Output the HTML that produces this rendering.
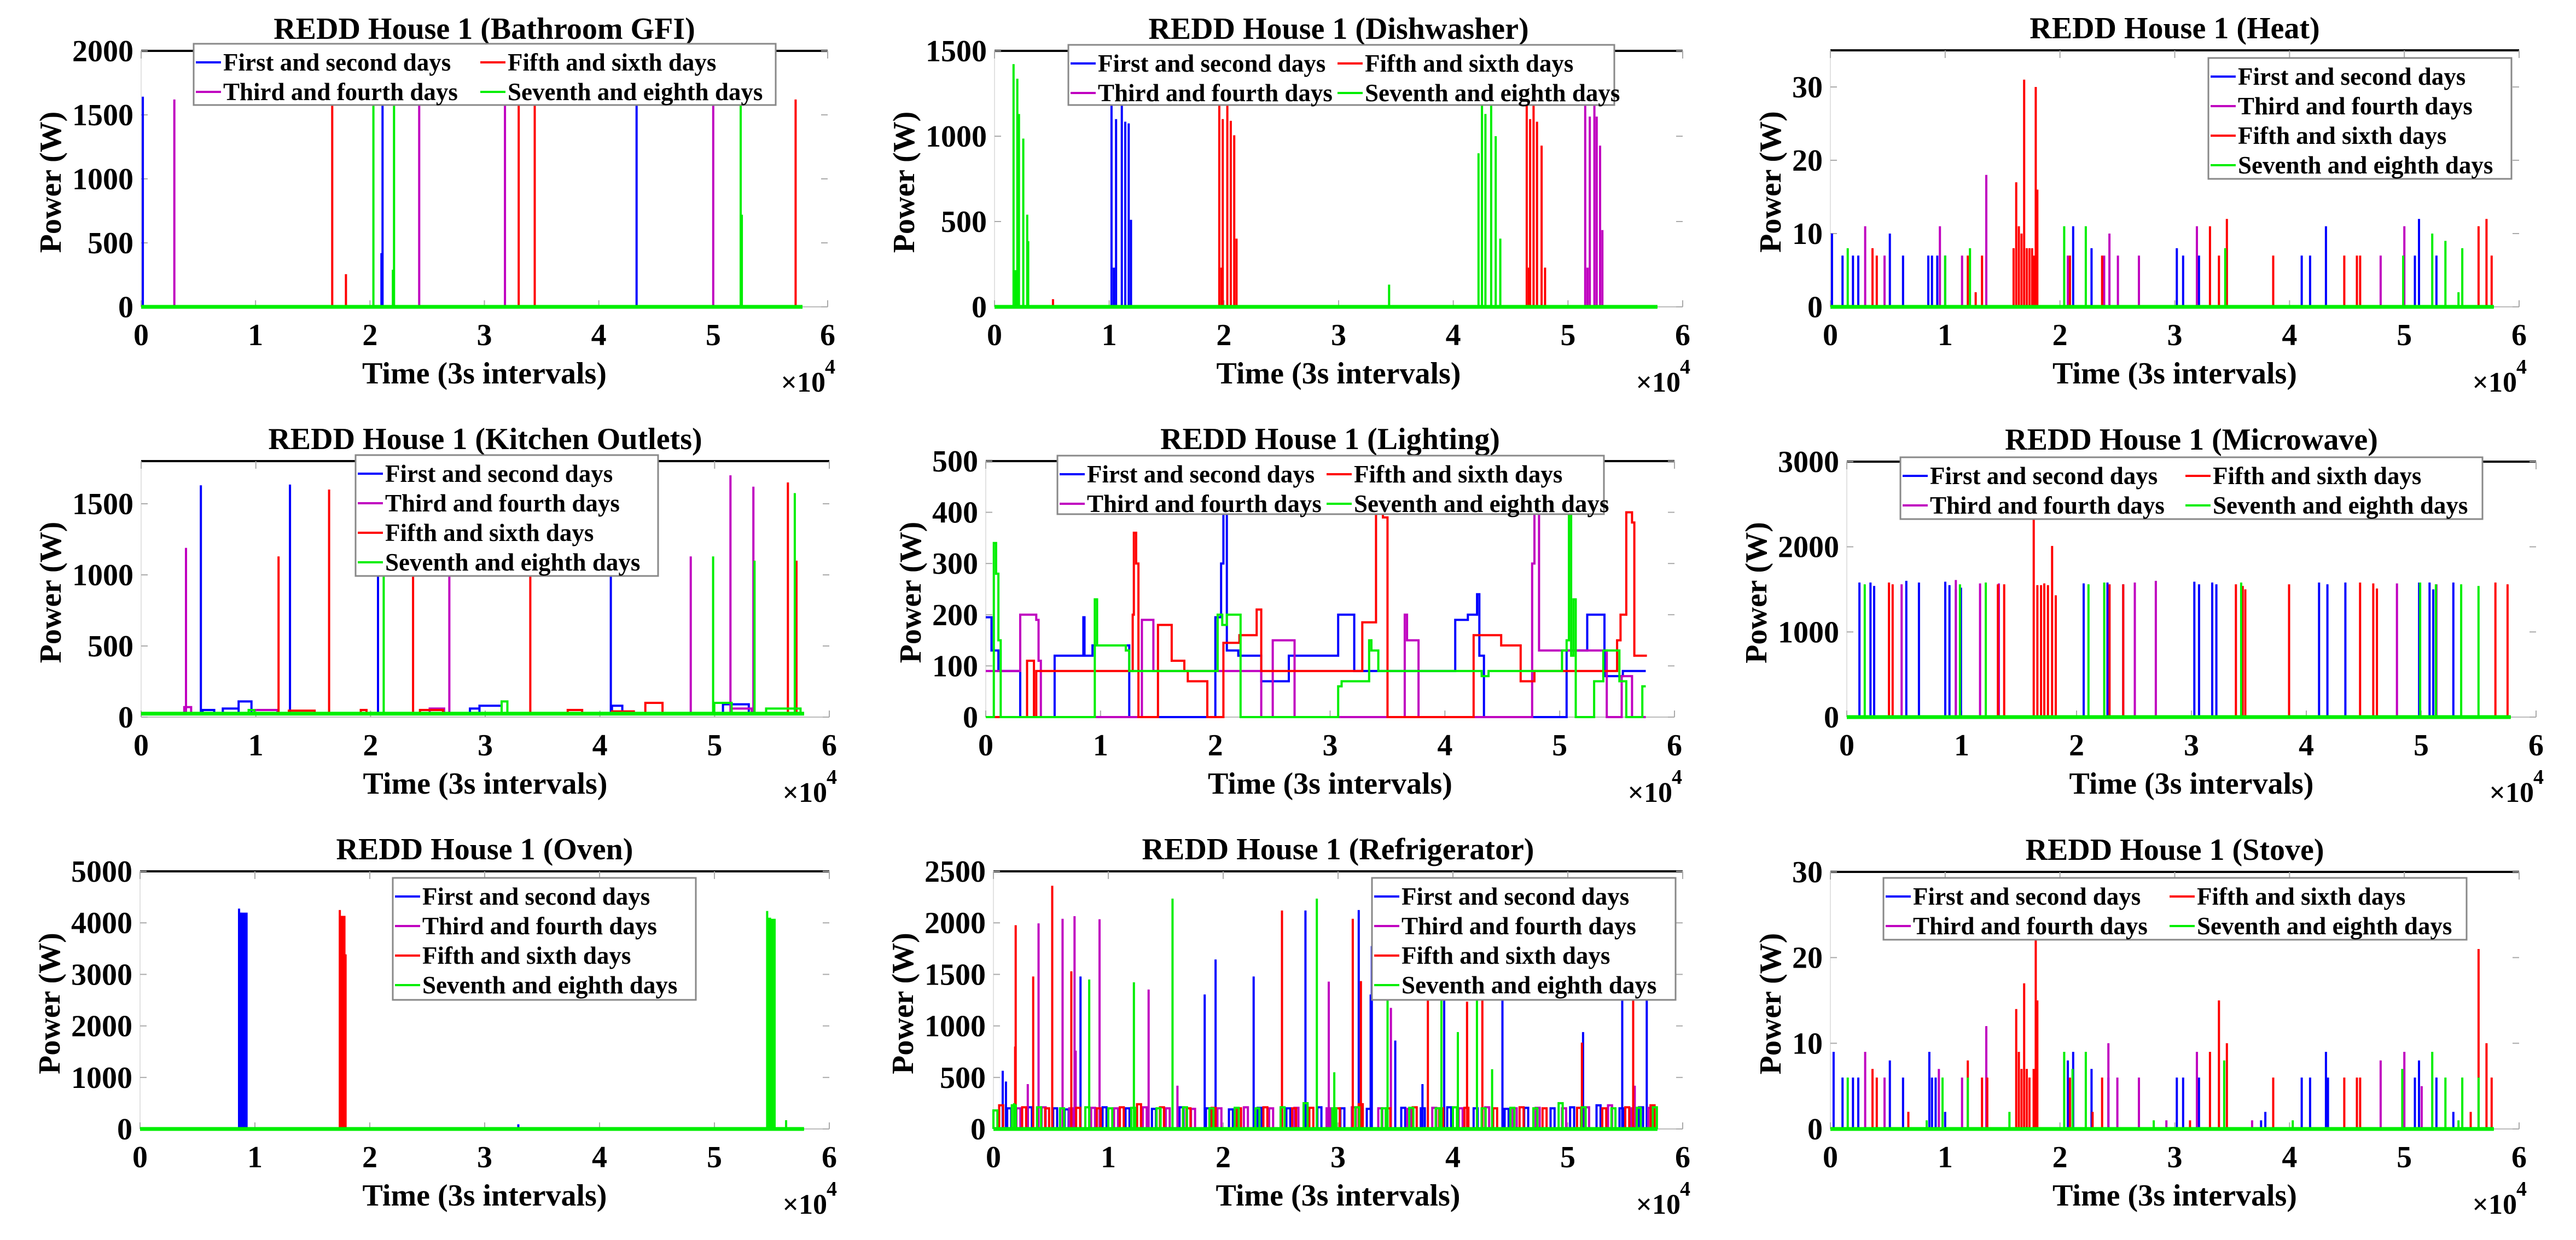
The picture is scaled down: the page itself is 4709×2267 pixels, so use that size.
<!DOCTYPE html>
<html><head><meta charset="utf-8"><style>
html,body{margin:0;padding:0;background:#fff;}
svg{display:block;}
text{font-family:"Liberation Serif",serif;font-weight:bold;fill:#000;}
</style></head><body>
<svg id="fig" width="4709" height="2267" viewBox="0 0 4709 2267" xmlns="http://www.w3.org/2000/svg">
<rect width="4709" height="2267" fill="#fff"/>
</svg>
<script>
// ===== Data (x in units of 1e4 samples, y in W) =====
const seriesNames = ["First and second days","Third and fourth days","Fifth and sixth days","Seventh and eighth days"];
const xTickLabels = ["0","1","2","3","4","5","6"];
const xEnd = 5.78;

// Bathroom GFI
const bathBlue = [[0.015,1642],[2.11,1620],[2.10,420],[4.33,1620]];
const bathMag = [[0.29,1620],[2.43,1620],[3.18,1620],[5.0,1620]];
const bathRed = [[1.67,1620],[1.79,255],[3.30,1620],[3.44,1620],[5.72,1620]];
const bathGreen = [[2.03,1620],[2.21,1620],[2.20,290],[5.24,1620],[5.25,720]];
const bathTicks = [0,500,1000,1500,2000];

// Dishwasher
const dishBlue = [[1.02,1180],[1.04,230],[1.06,1100],[1.11,1185],[1.14,1085],[1.17,1075],[1.19,510]];
const dishMag = [[5.15,1180],[5.17,230],[5.19,1115],[5.23,1180],[5.25,1115],[5.28,945],[5.30,450]];
const dishRed = [[0.51,45],[1.96,1180],[1.98,230],[1.99,1100],[2.03,1185],[2.06,1090],[2.09,1005],[2.11,400],[4.64,1180],[4.66,230],[4.67,1100],[4.70,1180],[4.73,1085],[4.77,945],[4.80,230]];
const dishGreen = [[0.166,1422],[0.18,215],[0.199,1337],[0.213,1130],[0.251,986],[0.285,540],[0.294,385],[3.44,130],[4.22,900],[4.25,1180],[4.28,1130],[4.33,1180],[4.37,1000],[4.41,400]];
const dishTicks = [0,500,1000,1500];

// Heat
const heatBlue = [[0.014,10],[0.106,7],[0.197,7],[0.243,7],[0.518,10],[0.633,7],[0.853,7],[0.885,7],[0.931,7],[1.0,7],[2.115,11],[2.275,8],[3.018,8],[3.073,7],[3.211,7],[4.106,7],[4.179,7],[4.317,11],[5.092,7],[5.128,12],[5.28,7]];
const heatMag = [[0.303,11],[0.472,7],[0.954,11],[1.147,7],[1.358,18],[2.069,7],[2.385,7],[2.431,10],[2.505,7],[2.688,7],[3.193,11],[4.794,7],[5.0,11]];
const heatRed = [[0.367,8],[0.404,7],[1.197,7],[1.266,2],[1.321,7],[1.596,8],[1.619,17],[1.642,11],[1.665,10],[1.688,31],[1.711,8],[1.734,8],[1.757,8],[1.771,7],[1.789,30],[1.803,16],[2.087,7],[2.367,7],[3.307,11],[3.385,7],[3.454,12],[3.858,7],[4.477,7],[4.587,7],[4.615,7],[5.647,11],[5.716,12],[5.761,7]];
const heatGreen = [[0.151,8],[1.0,7],[1.216,8],[2.037,11],[2.225,11],[3.44,8],[4.99,7],[5.243,10],[5.358,9],[5.472,2],[5.505,8]];
const heatTicks = [0,10,20,30];

// Kitchen Outlets
const kitBlue = [[0.521,1630],[1.298,1635],[2.065,1100],[4.095,1100]];
const kitBluePlat = [[0.536,0.637,50],[0.712,0.85,60],[0.85,0.962,110],[2.867,2.95,60],[2.95,3.143,80],[4.105,4.195,80],[5.073,5.298,90]];
const kitMag = [[0.391,1190],[2.687,1100],[4.792,1130],[5.138,1700],[5.338,1620]];
const kitMagPlat = [[0.376,0.436,70],[0.937,1.188,50],[2.516,2.642,60],[5.148,5.323,60]];
const kitRed = [[1.198,1130],[1.639,1600],[2.371,1100],[3.393,1100],[5.639,1650],[5.714,1100]];
const kitRedPlat = [[1.288,1.513,45],[1.915,1.965,50],[2.431,2.632,50],[3.719,3.845,50],[4.105,4.296,40],[4.396,4.546,100]];
const kitGreen = [[2.115,1100],[4.987,1130],[5.348,1100],[5.699,1575]];
const kitGreenPlat = [[0.937,0.987,50],[3.143,3.193,110],[4.997,5.148,100],[5.449,5.749,60]];
const kitTicks = [0,500,1000,1500];

// Lighting (step series: [x, value] held until next x)
const lightBlue = [[0,195],[0.05,130],[0.11,90],[0.30,0],[0.60,120],[0.84,120],[0.85,195],[0.86,120],[0.93,140],[1.22,140],[1.25,0],[1.98,0],[2.0,195],[2.05,300],[2.07,400],[2.10,130],[2.2,120],[2.4,70],[2.64,120],[3.07,200],[3.21,90],[4.09,190],[4.20,200],[4.28,240],[4.30,120],[4.34,0],[5.06,130],[5.24,200],[5.39,80],[5.55,90],[5.75,90]];
const lightMag = [[0,90],[0.28,90],[0.30,200],[0.44,190],[0.46,110],[0.48,0],[1.32,0],[1.36,190],[1.46,90],[2.38,90],[2.40,0],[2.50,150],[2.69,0],[3.64,0],[3.65,200],[3.67,150],[3.77,0],[4.76,300],[4.78,400],[4.82,130],[5.39,130],[5.41,0],[5.54,80],[5.63,0],[5.75,0]];
const lightRed = [[0,0],[0.33,0],[0.36,110],[0.42,0],[0.44,90],[1.26,90],[1.28,200],[1.29,360],[1.31,300],[1.33,0],[1.50,180],[1.62,110],[1.73,90],[1.76,70],[1.93,0],[2.07,145],[2.21,160],[2.36,210],[2.40,90],[3.28,185],[3.40,400],[3.46,390],[3.50,0],[4.25,160],[4.49,140],[4.66,70],[4.78,90],[5.40,90],[5.50,150],[5.53,200],[5.58,400],[5.63,380],[5.65,120],[5.76,120]];
const lightGreen = [[0,0],[0.05,0],[0.07,340],[0.09,280],[0.11,150],[0.13,0],[0.93,0],[0.95,230],[0.97,140],[1.22,130],[1.25,90],[2.0,90],[2.02,200],[2.06,180],[2.10,200],[2.22,0],[3.05,0],[3.07,60],[3.10,70],[3.30,70],[3.34,150],[3.36,130],[3.42,90],[4.30,90],[4.32,80],[4.38,90],[5.0,90],[5.02,130],[5.06,150],[5.08,400],[5.10,120],[5.12,230],[5.14,0],[5.30,70],[5.38,130],[5.50,130],[5.52,70],[5.58,0],[5.72,60],[5.75,60]];
const lightTicks = [0,100,200,300,400,500];

// Microwave
const microBlue = [[0.11,1580],[0.206,1580],[0.238,1540],[0.518,1600],[0.628,1580],[0.857,1590],[0.894,1550],[0.949,1500],[0.994,1520],[2.062,1570],[2.269,1580],[2.406,1560],[3.025,1590],[3.066,1560],[3.181,1580],[3.217,1560],[4.111,1580],[4.184,1560],[4.34,1580],[4.982,1580],[5.073,1580],[5.105,1500],[5.28,1580]];
const microMag = [[0.477,1560],[0.949,1610],[1.16,1570],[1.324,1570],[2.507,1580],[2.69,1600],[4.789,1570],[5.133,1560]];
const microRed = [[0.367,1580],[0.399,1560],[1.315,1560],[1.37,1560],[1.627,2330],[1.659,1550],[1.691,1550],[1.719,1570],[1.751,1550],[1.787,2010],[1.819,1430],[2.287,1560],[2.406,1560],[3.387,1560],[3.446,1540],[3.469,1500],[3.85,1560],[4.468,1580],[4.583,1570],[4.615,1510],[5.646,1580],[5.752,1560]];
const microGreen = [[0.156,1560],[0.985,1560],[1.21,1580],[2.104,1560],[2.241,1580],[3.433,1580],[4.991,1580],[5.128,1560],[5.348,1560],[5.499,1540]];
const microTicks = [0,1000,2000,3000];

// Oven
const ovenBlue = [[0.862,4277],[0.877,4200],[0.887,4199],[0.9,4199],[0.912,4199],[0.927,4199],[3.293,90]];
const ovenMag = [];
const ovenRed = [[1.739,4250],[1.749,4136],[1.759,4136],[1.769,4136],[1.779,4136],[1.789,3390]];
const ovenGreen = [[5.459,4230],[5.47,4100],[5.484,4100],[5.496,4080],[5.509,4080],[5.524,4080],[5.624,170]];
const ovenTicks = [0,1000,2000,3000,4000,5000];

// Refrigerator: large spikes
const fridgeBlue = [[0.081,565],[0.109,460],[0.758,1480],[1.839,1305],[1.934,1645],[2.265,1480],[2.716,2120],[3.18,2125],[3.284,1305],[3.294,1775],[3.498,858],[3.735,435],[3.924,1300],[4.431,1300],[5.133,940],[5.474,1300],[5.687,1300]];
const fridgeMag = [[0.299,435],[0.393,1995],[0.602,2040],[0.706,2065],[0.716,760],[0.924,2035],[1.351,1353],[1.602,420],[2.919,1430],[3.46,1175],[5.583,420]];
const fridgeRed = [[0.189,800],[0.194,1977],[0.346,1480],[0.512,2360],[0.678,1530],[2.512,2120],[3.128,2040],[3.199,1435],[3.782,1300],[4.123,1235],[4.256,1300],[5.123,838],[5.569,1400]];
const fridgeGreen = [[0.18,250],[0.834,1450],[1.223,1423],[1.559,2235],[2.815,2235],[2.967,550],[3.431,1300],[3.9,1300],[4.043,940],[4.209,1300],[4.341,580]];
// Refrigerator: compressor cycles (~200 W)
const fridgeCycBlue = [[0.12,200],[0.3,210],[0.52,200],[0.62,190],[0.95,210],[1.15,200],[1.38,195],[1.62,210],[1.85,200],[2.05,190],[2.3,205],[2.55,200],[2.82,210],[3.02,200],[3.25,195],[3.55,205],[3.72,200],[3.95,210],[4.18,200],[4.45,195],[4.62,205],[4.85,200],[5.02,210],[5.25,230],[5.45,200],[5.62,210]];
const fridgeCycMag = [[0.2,200],[0.42,210],[0.66,200],[0.85,205],[1.05,200],[1.3,210],[1.5,200],[1.72,195],[1.95,200],[2.18,210],[2.4,200],[2.62,205],[2.9,200],[3.12,210],[3.35,200],[3.6,195],[3.82,205],[4.05,200],[4.28,210],[4.52,200],[4.72,205],[4.95,200],[5.15,210],[5.35,230],[5.55,200],[5.7,205]];
const fridgeCycRed = [[0.05,230],[0.25,210],[0.45,200],[0.72,205],[0.9,200],[1.1,210],[1.25,240],[1.45,210],[1.68,200],[1.9,205],[2.12,200],[2.35,210],[2.6,200],[2.75,205],[2.98,200],[3.18,240],[3.42,200],[3.65,210],[3.88,200],[4.1,205],[4.35,200],[4.58,210],[4.78,200],[5.08,205],[5.3,200],[5.5,210],[5.72,230]];
const fridgeCycGreen = [[0.0,180],[0.16,230],[0.38,210],[0.58,200],[0.8,210],[1.0,200],[1.2,205],[1.42,200],[1.65,210],[1.88,200],[2.1,205],[2.28,200],[2.5,210],[2.7,250],[2.95,200],[3.15,210],[3.38,200],[3.62,205],[3.85,200],[4.0,210],[4.25,200],[4.5,205],[4.7,200],[4.92,250],[5.12,210],[5.38,200],[5.6,205],[5.74,210]];
const fridgeTicks = [0,500,1000,1500,2000,2500];

// Stove
const stoveBlue = [[0.028,9],[0.106,6],[0.197,6],[0.243,6],[0.518,8],[0.633,6],[0.862,9],[0.885,6],[0.917,6],[1.0,2],[2.069,8],[2.115,9],[2.275,7],[2.422,6],[3.018,6],[3.073,6],[3.211,6],[3.752,1],[3.789,2],[4.106,6],[4.179,6],[4.317,9],[4.335,6],[5.092,6],[5.128,8],[5.28,6],[5.427,2]];
const stoveMag = [[0.303,9],[0.472,6],[0.679,2],[0.945,7],[1.147,6],[1.358,12],[2.422,10],[2.5,6],[2.688,6],[2.927,1],[3.193,9],[3.674,1],[4.794,8],[5.0,9],[5.151,5]];
const stoveRed = [[0.367,7],[0.404,6],[0.679,2],[1.197,8],[1.321,6],[1.367,6],[1.619,14],[1.642,9],[1.665,7],[1.688,17],[1.711,7],[1.734,6],[1.771,7],[1.789,22],[1.803,15],[2.087,6],[2.284,2],[2.367,6],[3.133,1],[3.307,9],[3.385,15],[3.454,10],[3.858,6],[4.477,6],[4.587,6],[4.615,6],[5.578,2],[5.647,21],[5.716,10],[5.761,6]];
const stoveGreen = [[0.151,6],[0.839,1],[0.977,6],[1.197,6],[1.56,2],[2.037,9],[2.11,7],[2.225,9],[2.817,1],[3.431,8],[4.028,1],[4.982,7],[5.243,9],[5.358,6],[5.472,1],[5.505,6],[5.647,6]];
const stoveTicks = [0,10,20,30];

// ===== Rendering =====
const NS = "http://www.w3.org/2000/svg";
const svg = document.getElementById("fig");
const COLORS = ["#0000ff","#c000c0","#ff0000","#00ee00"];

function mk(tag, attrs, parent){
  const e = document.createElementNS(NS, tag);
  for (const k in attrs) e.setAttribute(k, attrs[k]);
  (parent||svg).appendChild(e);
  return e;
}

function drawPanel(p){
  const g = mk("g", {});
  
  
  const X = v => p.L + (v/6)*(p.R-p.L);
  const Y = v => p.B - (v/p.ymax)*(p.B-p.T);

  // axes
  const ax = mk("g", {}, g);
  
  
  mk("line", {x1:p.L, y1:p.T, x2:p.L, y2:p.B, stroke:"#e2e2e2", "stroke-width":2}, ax);
  mk("line", {x1:p.L, y1:p.B, x2:p.R, y2:p.B, stroke:"#bbbbbb", "stroke-width":2}, ax);
  mk("line", {x1:p.L, y1:p.T, x2:p.R, y2:p.T, stroke:"#000", "stroke-width":4}, ax);

  // y ticks
  let maxW = 0;
  p.yticks.forEach(t => {
    const y = Y(t);
    mk("line", {x1:p.L, y1:y, x2:p.L+12, y2:y, stroke:"#aaa", "stroke-width":2}, ax);
    mk("line", {x1:p.R-12, y1:y, x2:p.R, y2:y, stroke:"#aaa", "stroke-width":2}, ax);
    const tx = mk("text", {x:p.L-14, y:y+19, "font-size":56, "text-anchor":"end"}, ax);
    
    
    tx.textContent = String(t);
    maxW = Math.max(maxW, String(t).length*28);
  });
  // x ticks
  xTickLabels.forEach((lab, i) => {
    const x = X(i);
    mk("line", {x1:x, y1:p.T, x2:x, y2:p.T+14, stroke:"#aaa", "stroke-width":2}, ax);
    mk("line", {x1:x, y1:p.B, x2:x, y2:p.B-12, stroke:"#aaa", "stroke-width":2}, ax);
    const tx = mk("text", {x:x, y:p.B+70, "font-size":56, "text-anchor":"middle"}, ax);
    
    
    tx.textContent = lab;
  });

  // series
  p.series.forEach((s, si) => {
    const col = COLORS[si];
    const sg = mk("g", {fill:"none", stroke:col, "stroke-width":4, "stroke-linejoin":"miter"}, g);
    
    
    let d = "";
    const base = s.base || 0;
    if (s.steps){
      s.steps.forEach((pt, i) => {
        if (i === 0) d += "M" + X(pt[0]).toFixed(1) + " " + Y(pt[1]).toFixed(1);
        else d += "H" + X(pt[0]).toFixed(1) + "V" + Y(pt[1]).toFixed(1);
      });
    } else {
      d += "M" + X(0) + " " + Y(base).toFixed(1) + "H" + X(xEnd).toFixed(1);
      (s.plats||[]).forEach(pl => {
        d += "M" + X(pl[0]).toFixed(1) + " " + Y(base).toFixed(1) + "V" + Y(pl[2]).toFixed(1) + "H" + X(pl[1]).toFixed(1) + "V" + Y(base).toFixed(1);
      });
      (s.cyc||[]).forEach(c => {
        d += "M" + X(c[0]).toFixed(1) + " " + Y(0).toFixed(1) + "V" + Y(c[1]).toFixed(1) + "H" + X(c[0]+0.035).toFixed(1) + "V" + Y(0).toFixed(1);
      });
      (s.spikes||[]).forEach(sp => {
        d += "M" + X(sp[0]).toFixed(1) + " " + Y(base).toFixed(1) + "V" + Y(sp[1]).toFixed(1);
      });
    }
    const path = mk("path", {d:d}, sg);
    
    
  });
  // baseline green emphasis (last series on top at ~0)
  if (!p.series[0].steps){
    const bl = mk("line", {x1:X(0), y1:Y(p.series[3].base||0), x2:X(xEnd), y2:Y(p.series[3].base||0), stroke:COLORS[3], "stroke-width":7}, g);
    
    
  }

  // title
  const ti = mk("text", {x:(p.L+p.R)/2, y:p.T-22, "font-size":56, "text-anchor":"middle"}, g);
  
  
  ti.textContent = p.title;

  // y label
  const yl = p.L - 14 - maxW - 40;
  const yc = (p.T + p.B)/2 + 6;
  const ylt = mk("text", {x:0, y:0, "font-size":56, "text-anchor":"middle", transform:"translate(" + (yl+19) + "," + yc + ") rotate(-90)"}, g);
  
  
  ylt.textContent = "Power (W)";

  // x label
  const xl = mk("text", {x:(p.L+p.R)/2, y:p.B+140, "font-size":56, "text-anchor":"middle"}, g);
  
  
  xl.textContent = "Time (3s intervals)";
  const mult = mk("text", {x:p.R-4, y:p.B+155, "font-size":52, "text-anchor":"end", "font-weight":"normal"}, g);
  
  
  mult.textContent = "\u00d710";
  const sup = mk("text", {x:p.R+14, y:p.B+122, "font-size":38, "text-anchor":"end", "font-weight":"normal"}, g);
  
  
  sup.textContent = "4";

  // legend
  const lg = p.legend;
  const legG = mk("g", {}, g);
  
  
  mk("rect", {x:lg.x, y:lg.y, width:lg.w, height:lg.h, fill:"#fff", stroke:"#888", "stroke-width":3}, legG);
  const order = lg.cols === 2 ? [[0,0,0],[2,1,0],[1,0,1],[3,1,1]] : [[0,0,0],[1,0,1],[2,0,2],[3,0,3]];
  order.forEach(o => {
    const idx = o[0], cx = lg.x + 4 + o[1]*lg.off, cy = lg.y + 34 + o[2]*54;
    const eg = mk("g", {}, legG);
    
    
    mk("line", {x1:cx, y1:cy, x2:cx+46, y2:cy, stroke:COLORS[idx], "stroke-width":4}, eg);
    const t = mk("text", {x:cx+50, y:cy+15, "font-size":45}, eg);
    t.textContent = seriesNames[idx];
  });
}

const panels = [
  {key:"bathroom", title:"REDD House 1 (Bathroom GFI)", L:258, R:1513, T:93, B:561, ymax:2000, yticks:bathTicks,
   series:[{spikes:bathBlue},{spikes:bathMag},{spikes:bathRed},{spikes:bathGreen}],
   legend:{x:354, y:80, w:1064, h:112, cols:2, off:520}},
  {key:"dishwasher", title:"REDD House 1 (Dishwasher)", L:1818, R:3076, T:93, B:561, ymax:1500, yticks:dishTicks,
   series:[{spikes:dishBlue},{spikes:dishMag},{spikes:dishRed},{spikes:dishGreen}],
   legend:{x:1953, y:82, w:998, h:110, cols:2, off:488}},
  {key:"heat", title:"REDD House 1 (Heat)", L:3346, R:4605, T:92, B:561, ymax:35, yticks:heatTicks,
   series:[{spikes:heatBlue},{spikes:heatMag},{spikes:heatRed},{spikes:heatGreen}],
   legend:{x:4037, y:106, w:554, h:221, cols:1, off:0}},
  {key:"kitchen", title:"REDD House 1 (Kitchen Outlets)", L:258, R:1516, T:843, B:1311, ymax:1800, yticks:kitTicks,
   series:[{spikes:kitBlue, plats:kitBluePlat, base:28},{spikes:kitMag, plats:kitMagPlat, base:20},{spikes:kitRed, plats:kitRedPlat, base:22},{spikes:kitGreen, plats:kitGreenPlat, base:24}],
   legend:{x:650, y:832, w:553, h:221, cols:1, off:0}},
  {key:"lighting", title:"REDD House 1 (Lighting)", L:1802, R:3061, T:843, B:1311, ymax:500, yticks:lightTicks,
   series:[{steps:lightBlue},{steps:lightMag},{steps:lightRed},{steps:lightGreen}],
   legend:{x:1933, y:833, w:999, h:107, cols:2, off:488}},
  {key:"microwave", title:"REDD House 1 (Microwave)", L:3376, R:4636, T:844, B:1311, ymax:3000, yticks:microTicks,
   series:[{spikes:microBlue},{spikes:microMag},{spikes:microRed},{spikes:microGreen}],
   legend:{x:3474, y:836, w:1064, h:113, cols:2, off:517}},
  {key:"oven", title:"REDD House 1 (Oven)", L:256, R:1516, T:1593, B:2064, ymax:5000, yticks:ovenTicks,
   series:[{spikes:ovenBlue},{spikes:ovenMag},{spikes:ovenRed},{spikes:ovenGreen}],
   legend:{x:718, y:1605, w:554, h:223, cols:1, off:0}},
  {key:"refrigerator", title:"REDD House 1 (Refrigerator)", L:1816, R:3076, T:1593, B:2064, ymax:2500, yticks:fridgeTicks,
   series:[{spikes:fridgeBlue, cyc:fridgeCycBlue},{spikes:fridgeMag, cyc:fridgeCycMag},{spikes:fridgeRed, cyc:fridgeCycRed},{spikes:fridgeGreen, cyc:fridgeCycGreen}],
   legend:{x:2508, y:1605, w:555, h:223, cols:1, off:0}},
  {key:"stove", title:"REDD House 1 (Stove)", L:3346, R:4605, T:1594, B:2064, ymax:30, yticks:stoveTicks,
   series:[{spikes:stoveBlue},{spikes:stoveMag},{spikes:stoveRed},{spikes:stoveGreen}],
   legend:{x:3443, y:1605, w:1066, h:113, cols:2, off:519}}
];
panels.forEach(drawPanel);
</script>
</body></html>
